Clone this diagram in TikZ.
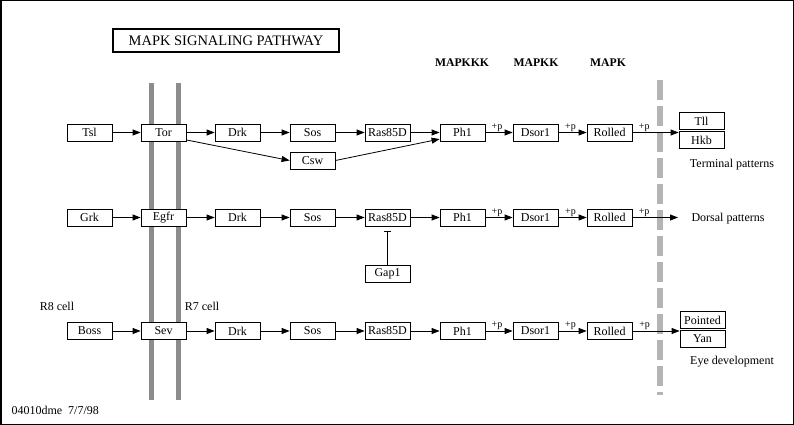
\documentclass[tikz,border=0pt]{standalone}
\usepackage{fontspec}
\setmainfont{Liberation Serif}
\usetikzlibrary{arrows.meta}
\definecolor{barGray}{RGB}{140,140,140}
\definecolor{dashGray}{RGB}{180,180,180}
\tikzset{
  gene/.style={draw, fill=white, line width=0.8pt, minimum width=45pt,
    minimum height=17pt, inner sep=0pt, font=\fontsize{12}{13}\selectfont},
  act/.style={-{Triangle[length=8pt,width=6pt]}, line width=0.8pt},
  inhib/.style={-{Bar[width=7pt]}, line width=0.8pt, shorten >=5pt},
  plusp/.style={above, inner sep=0.5pt, xshift=-2pt, font=\fontsize{10}{11}\selectfont},
  note/.style={font=\fontsize{12}{13}\selectfont},
  kinase/.style={font=\bfseries\fontsize{11.7}{13}\selectfont},
  membrane/.style={line width=5pt, draw=barGray}
}
\begin{document}
\begin{tikzpicture}[x=1pt,y=-1pt]
        \useasboundingbox (0,0) rectangle (794,425);
        % Frame and title
        \draw[line width=1.5pt] (0.75,0.75) rectangle (793.25,424.25);
        \node[draw, line width=2pt, minimum width=226pt, minimum height=23pt,
          font=\fontsize{14.5}{16}\selectfont] (title) at (226,40.5) {MAPK SIGNALING PATHWAY};

        % Membranes and nucleus border
        \draw[membrane] (151.5,83) -- (151.5,400);
        \draw[membrane] (178.5,83) -- (178.5,400);
        \draw[line width=6pt, draw=dashGray, dash pattern=on 20pt off 6pt] (660,80) -- (660,395);

        % Kinase levels
        \node[kinase] (mapkkk) at (462,63) {MAPKKK};
        \node[kinase] (mapkk) at (536,63) {MAPKK};
        \node[kinase] (mapk) at (608,63) {MAPK};

        % Terminal row
        \node[gene] (tsl) at (89.5,132.5) {Tsl};
        \node[gene] (tor) at (163.5,132.5) {Tor};
        \node[gene] (drka) at (237.5,132.5) {Drk};
        \node[gene] (sosa) at (312.5,132.5) {Sos};
        \node[gene] (rasa) at (387.5,132.5) {Ras85D};
        \node[gene] (phla) at (462.5,132.5) {Ph1};
        \node[gene] (dsora) at (535.5,132.5) {Dsor1};
        \node[gene] (rolleda) at (609.5,132.5) {Rolled};
        \node[gene] (csw) at (312.5,160.5) {Csw};
        \node[gene] (tll) at (701.5,121) {Tll};
        \node[gene] (hkb) at (701.5,140) {Hkb};
        \node[note] (terminal) at (732,165) {Terminal patterns};

        \draw[act] (tsl) -- (tor);
        \draw[act] (tor) -- (drka);
        \draw[act] (drka) -- (sosa);
        \draw[act] (sosa) -- (rasa);
        \draw[act] (rasa) -- (phla);
        \draw[act] (tor.-18) -- (csw.west);
        \draw[act] (csw.east) -- (phla.196);
        \draw[act] (phla) -- node[plusp] {+p} (dsora);
        \draw[act] (dsora) -- node[plusp] {+p} (rolleda);
        \draw[act] (rolleda) -- node[plusp, pos=0.3] {+p} (rolleda -| hkb.west);

        % Dorsal row
        \node[gene] (grk) at (89.5,217.5) {Grk};
        \node[gene] (egfr) at (163.5,217.5) {Egfr};
        \node[gene] (drkb) at (237.5,217.5) {Drk};
        \node[gene] (sosb) at (312.5,217.5) {Sos};
        \node[gene] (rasb) at (387.5,217.5) {Ras85D};
        \node[gene] (phlb) at (462.5,217.5) {Ph1};
        \node[gene] (dsorb) at (535.5,217.5) {Dsor1};
        \node[gene] (rolledb) at (609.5,217.5) {Rolled};
        \node[gene] (gap) at (387.5,273.5) {Gap1};
        \node[note] (dorsal) at (728,219) {Dorsal patterns};
        \coordinate (dorsalend) at (678,217.5);

        \draw[act] (grk) -- (egfr);
        \draw[act] (egfr) -- (drkb);
        \draw[act] (drkb) -- (sosb);
        \draw[act] (sosb) -- (rasb);
        \draw[act] (rasb) -- (phlb);
        \draw[inhib] (gap) -- (rasb);
        \draw[act] (phlb) -- node[plusp] {+p} (dsorb);
        \draw[act] (dsorb) -- node[plusp] {+p} (rolledb);
        \draw[act] (rolledb) -- node[plusp, pos=0.3] {+p} (dorsalend);

        % Eye row
        \node[note] (rviii) at (57,306) {R8 cell};
        \node[note] (rvii) at (202,306) {R7 cell};
        \node[gene] (boss) at (89.5,331) {Boss};
        \node[gene] (sev) at (163.5,331) {Sev};
        \node[gene] (drkc) at (237.5,331) {Drk};
        \node[gene] (sosc) at (312.5,331) {Sos};
        \node[gene] (rasc) at (387.5,331) {Ras85D};
        \node[gene] (phlc) at (462.5,331) {Ph1};
        \node[gene] (dsorc) at (535.5,331) {Dsor1};
        \node[gene] (rolledc) at (609.5,331) {Rolled};
        \node[gene] (pointed) at (702.5,320) {Pointed};
        \node[gene] (yan) at (702.5,339) {Yan};
        \node[note] (eye) at (732,362) {Eye development};

        \draw[act] (boss) -- (sev);
        \draw[act] (sev) -- (drkc);
        \draw[act] (drkc) -- (sosc);
        \draw[act] (sosc) -- (rasc);
        \draw[act] (rasc) -- (phlc);
        \draw[act] (phlc) -- node[plusp] {+p} (dsorc);
        \draw[act] (dsorc) -- node[plusp] {+p} (rolledc);
        \draw[act] (rolledc) -- node[plusp, pos=0.3] {+p} (rolledc -| yan.west);

        % Map id
        \node[note, anchor=west] (mapid) at (8,410) {04010dme\ \ 7/7/98};
\end{tikzpicture}
\end{document}
